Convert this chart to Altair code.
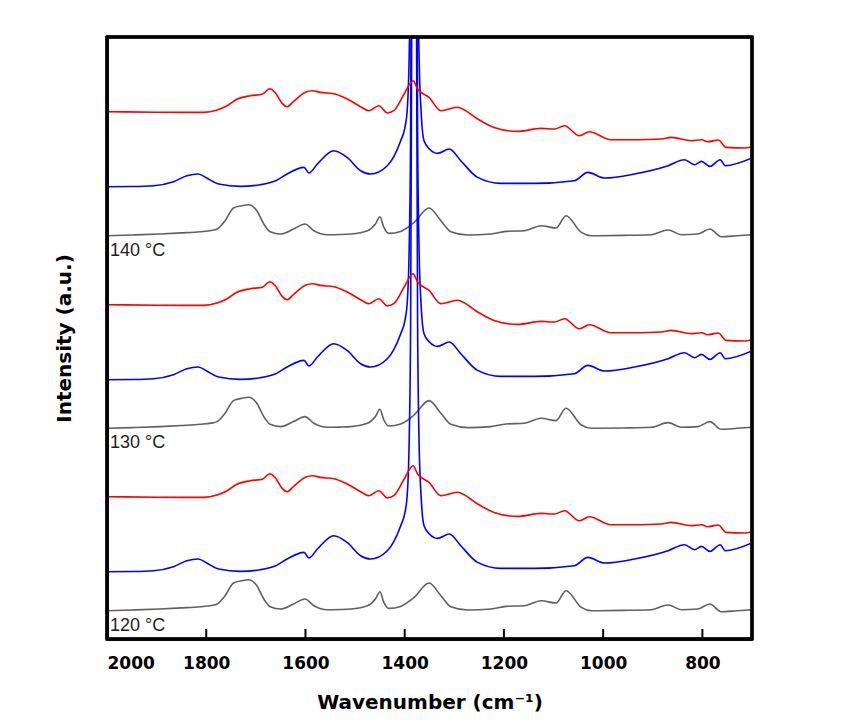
import altair as alt
import pandas as pd

# Wavenumber axis tick values
x_ticks = [2000, 1800, 1600, 1400, 1200, 1000, 800]

# Group labels and vertical offsets (a.u.) of each trace in the stack
groups = ["120 °C", "130 °C", "140 °C"]
gray_offsets = [28.3, 210.7, 403.3]
blue_offsets = [67.3, 259.3, 452.3]
red_offsets = [142.3, 334.3, 527.3]

# Gray spectrum (relative intensity)
wn_gray = [2000, 1950, 1893, 1850, 1812, 1790, 1778, 1762, 1745, 1728, 1715, 1698, 1684, 1671, 1650,
           1624, 1601, 1583, 1556, 1530, 1509, 1475, 1459, 1450, 1442, 1432, 1408, 1381,
           1351, 1327, 1307, 1273, 1226, 1196, 1159, 1125, 1095, 1075, 1044, 1024,
           960, 903, 869, 842, 809, 785, 762, 730, 700]
gray_rel = [0, 0.7, 1.7, 2.8, 4, 5.2, 6.7, 15, 27.7, 30, 31, 25, 11.7, 4, 1.7,
            6.7, 11.7, 5, 1, 1.2, 1.7, 5, 11.7, 19, 8.3, 2.3, 4.3, 13.3,
            27.7, 15, 4, 0.7, 1.7, 4.3, 5, 10, 7.7, 20, 3.3, 0,
            0.3, 1, 5.7, 1, 1.7, 6.7, -1, 0, 1]

# Blue spectrum (relative intensity)
wn_blue = [2000, 1950, 1906, 1866, 1839, 1816, 1799, 1775, 1731, 1691, 1660, 1637, 1603, 1593,
           1576, 1543, 1516, 1489, 1469, 1435, 1408, 1400, 1395, 1391, 1388, 1385.5,
           1383, 1379, 1376.5, 1374, 1371, 1367, 1361, 1350, 1334, 1310, 1287, 1253,
           1206, 1139, 1058, 1031, 997, 937, 869, 836, 816, 802, 785, 764, 754, 700]
blue_rel = [0, 0.2, 1, 5, 11, 12.7, 8.7, 2.7, 0.3, 2, 6, 12.7, 19.3, 13.7,
            22.7, 36, 29.3, 16, 12.7, 21, 46, 58, 76, 130, 250, 600,
            1100, 1100, 600, 250, 130, 76, 46, 37.7, 33.3, 37.7, 26, 9.3,
            3.3, 3.3, 6, 14.3, 8.7, 12.7, 21, 27, 22, 25.3, 20.3, 27, 21, 28.7]

# Red spectrum (relative intensity)
wn_red = [2000, 1900, 1805, 1778, 1758, 1738, 1711, 1687, 1672, 1661, 1647, 1637, 1624,
          1600, 1586, 1570, 1543, 1516, 1489, 1472, 1452, 1435, 1422, 1401, 1383,
          1374, 1351, 1327, 1294, 1253, 1220, 1172, 1125, 1098, 1078, 1048, 1028,
          984, 930, 883, 863, 822, 802, 789, 768, 752, 715, 700]
red_rel = [0, -0.5, -0.7, 1.7, 6, 12.5, 16, 17.5, 23, 19, 8.3, 5, 10.3,
           19.5, 21, 19.3, 18, 12.7, 5, 1, 6, -1.3, 1, 17.7, 31,
           22.7, 14.3, 1, 4.5, -7.3, -15.7, -19.7, -16.7, -17.3, -14, -24, -20,
           -28, -28, -27.3, -25.7, -29, -28, -30, -28.3, -35.7, -36.3, -35]


def build(wn, rel, offsets):
    rows = []
    for g, off in zip(groups, offsets):
        for i, (w, r) in enumerate(zip(wn, rel)):
            rows.append({"wn": w, "y": off + r, "group": g, "order": i})
    return pd.DataFrame(rows)


df_gray = build(wn_gray, gray_rel, gray_offsets)
df_blue = build(wn_blue, blue_rel, blue_offsets)
df_red = build(wn_red, red_rel, red_offsets)
df_labels = pd.DataFrame({"wn": [1994] * 3, "y": [o - 20 for o in gray_offsets], "label": groups})
df_ticks = pd.DataFrame({"wn": x_ticks})

W, H = 645, 602
xscale = alt.Scale(domain=[700, 2000], reverse=True, nice=False, zero=False)
yscale = alt.Scale(domain=[0, 602], nice=False, zero=False)

xaxis = alt.Axis(values=x_ticks, title="Wavenumber (cm⁻¹)", ticks=False, grid=False,
                 labelFont="DejaVu Sans", labelFontWeight="bold", labelFontSize=17,
                 labelColor="black", labelPadding=16, labelBaseline="top",
                 titleFont="DejaVu Sans", titleFontWeight="bold", titleFontSize=20,
                 titleColor="black", titlePadding=21,
                 domainColor="black", domainWidth=2.5, format="d")
yaxis = alt.Axis(title="Intensity (a.u.)", labels=False, ticks=False, grid=False,
                 titleFont="DejaVu Sans", titleFontWeight="bold", titleFontSize=20,
                 titleColor="black", titlePadding=33,
                 domainColor="black", domainWidth=2.5)


def line(df, color):
    return alt.Chart(df).mark_line(color=color, strokeWidth=1.6, clip=True,
                                   interpolate="monotone").encode(
        x=alt.X("wn:Q", scale=xscale, axis=xaxis),
        y=alt.Y("y:Q", scale=yscale, axis=yaxis),
        detail="group:N",
        order="order:Q",
    )


ticks = alt.Chart(df_ticks).mark_rule(color="black", strokeWidth=2).encode(
    x=alt.X("wn:Q", scale=xscale, axis=xaxis),
    y=alt.value(H),
    y2=alt.value(H - 10),
)

frame = alt.Chart(df_ticks).mark_rect(fill=None, stroke="black", strokeWidth=2.5).encode(
    x=alt.value(0), x2=alt.value(W), y=alt.value(0), y2=alt.value(H),
)

labels = alt.Chart(df_labels).mark_text(
    align="left", baseline="alphabetic", font="Liberation Sans", fontSize=18, color="#222222"
).encode(
    x=alt.X("wn:Q", scale=xscale, axis=xaxis),
    y=alt.Y("y:Q", scale=yscale, axis=yaxis),
    text="label:N",
)

chart = alt.layer(
    line(df_gray, "#606060"),
    line(df_blue, "#0000ff"),
    line(df_red, "#ff0000"),
    labels,
    ticks,
    frame,
).properties(
    width=W, height=H,
    autosize=alt.AutoSizeParams(type="none"),
    padding={"left": 99, "top": 29, "right": 60, "bottom": 80},
).configure_view(stroke=None).configure(background="white")

chart.save("out.html", embed_options={"renderer": "svg", "actions": False})
